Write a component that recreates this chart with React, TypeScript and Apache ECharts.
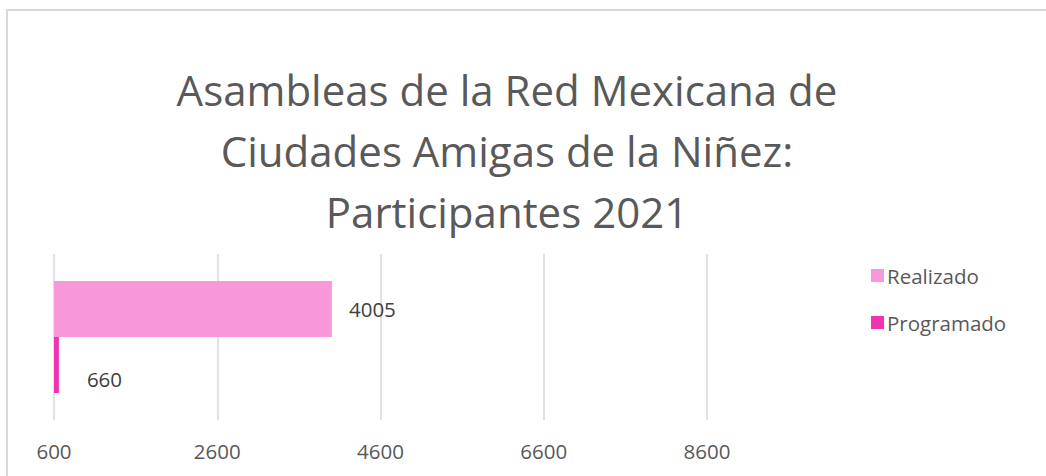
import React, { useEffect, useRef } from "react";
import * as echarts from "echarts";

const categories = ["Participantes 2021"];
const realizado = [4005];
const programado = [660];
const xTicks = { min: 600, max: 8600, interval: 2000 };
const titleText = "Asambleas de la Red Mexicana de\nCiudades Amigas de la Niñez:\nParticipantes 2021";

const FONT = "'Open Sans', sans-serif";
const TEXT = "#595959";

export default function App() {
  const ref = useRef<HTMLDivElement>(null);
  useEffect(() => {
    if (!ref.current) return;
    const chart = echarts.init(ref.current, undefined, { renderer: "svg" });
    chart.setOption({
      animation: false,
      backgroundColor: "#ffffff",
      textStyle: { fontFamily: FONT },
      title: {
        text: titleText,
        left: 502,
        textAlign: "center",
        top: 54,
        textStyle: {
          fontFamily: FONT,
          fontSize: 42,
          fontWeight: "normal",
          color: TEXT,
          lineHeight: 61,
        },
      },
      graphic: [
        {
          type: "rect",
          shape: { x: 7, y: 10, width: 1100, height: 500 },
          style: { fill: "none", stroke: "#d9d9d9", lineWidth: 2 },
          silent: true,
        },
      ],
      legend: {
        orient: "vertical",
        left: 866,
        top: 257,
        itemWidth: 13,
        itemHeight: 13,
        itemGap: 20,
        icon: "rect",
        data: ["Realizado", "Programado"],
        textStyle: { fontFamily: FONT, fontSize: 20.5, color: TEXT, padding: [0, 0, 0, -2], lineHeight: 27 },
      },
      grid: { left: 54, right: 339, top: 254, bottom: 56, containLabel: false },
      xAxis: {
        type: "value",
        min: xTicks.min,
        max: xTicks.max,
        interval: xTicks.interval,
        axisLine: { show: false },
        axisTick: { show: false },
        splitLine: { show: true, lineStyle: { color: "#d9d9d9", width: 1.5 } },
        axisLabel: {
          fontFamily: FONT,
          fontSize: 20.5,
          color: TEXT,
          margin: 20,
          formatter: (v: number) => String(v),
        },
      },
      yAxis: {
        type: "category",
        data: categories,
        axisLine: { show: false },
        axisTick: { show: false },
        axisLabel: { show: false },
      },
      series: [
        {
          name: "Realizado",
          type: "bar",
          data: realizado,
          barWidth: 56,
          barGap: "0%",
          itemStyle: { color: "#F898D8" },
          label: { show: true, position: "right", distance: 17, fontFamily: FONT, fontSize: 20.5, color: "#404040" },
        },
        {
          name: "Programado",
          type: "bar",
          data: programado,
          barWidth: 56,
          barGap: "0%",
          itemStyle: { color: "#F032B3" },
          label: {
            show: true,
            position: "right",
            distance: 28,
            offset: [0, 14],
            fontFamily: FONT,
            fontSize: 20.5,
            color: "#404040",
          },
        },
      ],
    });
    return () => chart.dispose();
  }, []);
  return (
    <div
      ref={ref}
      style={{ position: "fixed", left: 0, top: 0, width: 1046, height: 476 }}
    />
  );
}
